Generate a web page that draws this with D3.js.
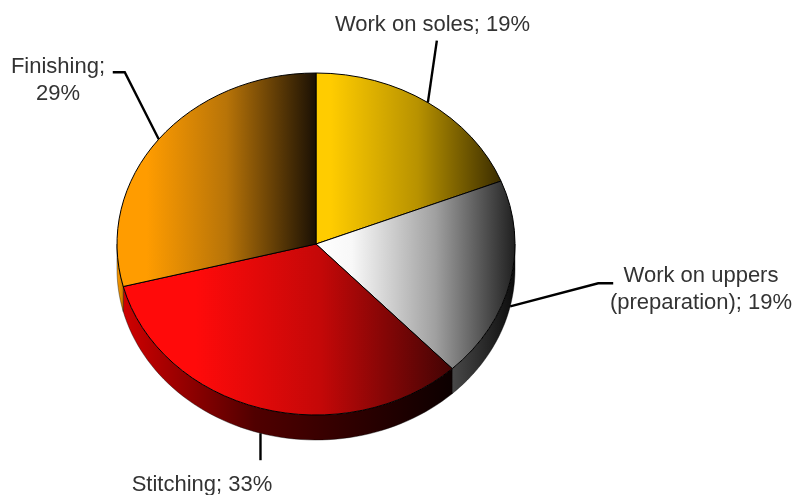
<!DOCTYPE html>
<html>
<head>
<meta charset="utf-8">
<script src="https://cdn.jsdelivr.net/npm/d3@7"></script>
<style>
  html, body { margin: 0; padding: 0; background: #fff; }
  svg { display: block; filter: blur(0.6px); }
  text { font-family: "Liberation Sans", Arial, sans-serif; font-size: 22px; fill: #333; }
</style>
</head>
<body>
<svg id="chart" width="795" height="495"></svg>
<script>
// chart data
const categories = ["Work on soles", "Work on uppers", "Stitching", "Finishing"];
const shares = [19, 19, 33, 29];
const labelLines = [
  ["Work on soles; 19%"],
  ["Work on uppers", "(preparation); 19%"],
  ["Stitching; 33%"],
  ["Finishing;", "29%"]
];
const topStops = [
  [[0, "#ffcc00"], [0.08, "#ffcc00"], [0.55, "#b89200"], [1, "#3a2c00"]],
  [[0, "#ffffff"], [0.18, "#f8f8f8"], [0.6, "#a0a0a0"], [1, "#202020"]],
  [[0, "#ff0a0a"], [0.22, "#ff0a0a"], [0.6, "#c40808"], [1, "#420404"]],
  [[0, "#ff9c00"], [0.15, "#ff9c00"], [0.55, "#b87408"], [1, "#1a1004"]]
];
const sideStops = [
  [[0, "#3a2c00"], [1, "#3a2c00"]],
  [[0, "#484848"], [1, "#0c0c0c"]],
  [[0, "#d00000"], [0.4, "#500000"], [1, "#0c0000"]],
  [[0, "#ff9c00"], [1, "#c87a00"]]
];

// layout
const attr = { cx: 316, cy: 244, rx: 199, ry: 171, depth: 25 };
const halfPi = Math.PI / 2;

const svg = d3.select("#chart");
const defs = svg.append("defs");

const slices = d3.pie().sort(null).value(d => d)(shares);

const ellipse = (a, drop) => [
  attr.cx + attr.rx * Math.sin(a),
  attr.cy - attr.ry * Math.cos(a) + drop
];

const addGradient = function(id, stops) {
  defs.append("linearGradient")
    .attr("id", id)
    .selectAll("stop")
    .data(stops)
    .enter()
    .append("stop")
    .attr("offset", d => d[0])
    .attr("stop-color", d => d[1]);
};

slices.forEach(function(d, i) {
  addGradient("top" + i, topStops[i]);
  addGradient("side" + i, sideStops[i]);
});

// side wall, only the front half of the ellipse shows
const wallLine = d3.line();
const wall = svg.append("g");

slices.forEach(function(d, i) {
  let a0 = Math.max(d.startAngle, halfPi);
  let a1 = Math.min(d.endAngle, 3 * halfPi);
  if (a1 <= a0) return;

  let steps = d3.range(0, 61).map(k => a0 + (a1 - a0) * k / 60);
  let points = steps.map(a => ellipse(a, 0))
    .concat(steps.slice().reverse().map(a => ellipse(a, attr.depth)));

  wall.append("path")
    .attr("d", wallLine(points) + "Z")
    .attr("fill", "url(#side" + i + ")")
    .attr("stroke", "#000")
    .attr("stroke-width", 0.4);
});

// top face
const arc = d3.arc().innerRadius(0).outerRadius(attr.rx);

svg.append("g")
  .attr("transform", "translate(" + attr.cx + "," + attr.cy + ") scale(1," + attr.ry / attr.rx + ")")
  .selectAll("path")
  .data(slices)
  .enter()
  .append("path")
  .attr("d", arc)
  .attr("fill", (d, i) => "url(#top" + i + ")")
  .attr("stroke", "#000")
  .attr("stroke-width", 1)
  .attr("vector-effect", "non-scaling-stroke");

// leader lines start on the rim at each slice's middle
const leaderSteps = [
  [[9, -62]],
  [[88, -23], [103, -23]],
  [[0, 27]],
  [[-34, -67], [-46, -67]]
];

const leaders = svg.append("g");

slices.forEach(function(d, i) {
  let mid = (d.startAngle + d.endAngle) / 2;
  let onFront = mid > halfPi && mid < 3 * halfPi;
  let start = ellipse(mid, onFront ? attr.depth : 0);
  let points = [start].concat(leaderSteps[i].map(s => [start[0] + s[0], start[1] + s[1]]));

  leaders.append("path")
    .attr("d", wallLine(points))
    .attr("fill", "none")
    .attr("stroke", "#000")
    .attr("stroke-width", 2.4);
});

// labels
const labelAnchors = [[432.5, 31], [701, 282], [202, 491], [58, 73]];

svg.append("g")
  .selectAll("text")
  .data(labelLines)
  .enter()
  .append("text")
  .attr("text-anchor", "middle")
  .attr("x", (d, i) => labelAnchors[i][0])
  .attr("y", (d, i) => labelAnchors[i][1])
  .each(function(lines, i) {
    d3.select(this).selectAll("tspan")
      .data(lines)
      .enter()
      .append("tspan")
      .attr("x", labelAnchors[i][0])
      .attr("dy", (d, k) => k === 0 ? 0 : 27)
      .text(d => d);
  });
</script>
</body>
</html>
